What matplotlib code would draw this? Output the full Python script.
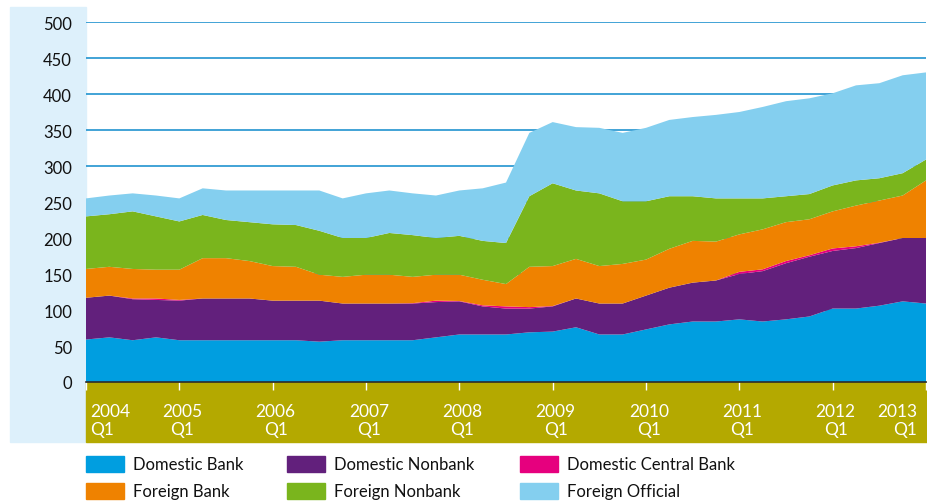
import numpy as np
from matplotlib import pyplot as plt
from matplotlib.patches import Rectangle
from matplotlib.transforms import ScaledTranslation

# Quarterly holdings, 2004 Q1 .. 2013 Q1
domestic_bank = [59, 62, 58, 62, 58, 58, 58, 58, 58, 58, 56, 58, 58, 58, 58, 62, 66, 66, 66,
                 69, 70, 76, 66, 66, 73, 80, 84, 84, 87, 84, 87, 91, 102, 102, 106, 112, 109]
domestic_nonbank = [58, 58, 57, 52, 55, 58, 58, 58, 55, 55, 57, 51, 51, 51, 51, 49, 46, 39, 36,
                    33, 35, 40, 43, 43, 47, 51, 54, 57, 63, 70, 78, 83, 80, 84, 87, 88, 91]
domestic_central_bank = [0, 0, 1, 2, 1, 0, 0, 0, 0, 0, 0, 0, 0, 0, 0.5, 2, 0.5, 1.5, 3,
                         2, 0.5, 0, 0, 0, 0, 0, 0, 0, 3, 2.5, 3, 2, 3.5, 2.5, 0.5, 0, 0]
foreign_bank = [40, 40, 41, 40, 42, 56, 56, 52, 48, 47, 36, 37, 40, 40, 36.5, 36, 36.5, 35.5, 31,
                56, 55.5, 55, 52, 55, 50, 54, 58, 54, 52, 55.5, 54, 50, 51.5, 56.5, 58.5, 59, 80]
foreign_nonbank = [73, 73, 80, 74, 67, 60, 53, 54, 58, 58, 61, 54, 51, 58, 58, 51, 54, 54, 57,
                   98, 115, 95, 101, 87, 81, 73, 62, 60, 50, 43, 36, 35, 36, 35, 31, 31, 29]
foreign_official = [25, 26, 25, 29, 32, 37, 41, 44, 47, 48, 56, 55, 62, 59, 58, 59, 63, 73, 84,
                    88, 85, 88, 91, 95, 102, 106, 110, 116, 120, 127, 132, 133, 128, 132, 132, 136, 121]

series_names = ["Domestic Bank", "Domestic Nonbank", "Domestic Central Bank",
                "Foreign Bank", "Foreign Nonbank", "Foreign Official"]
series_colors = ["#009ee0", "#62207c", "#e6007e", "#ef8200", "#7ab51d", "#84cfef"]
year_labels = ["2004", "2005", "2006", "2007", "2008", "2009", "2010", "2011", "2012", "2013"]

W, H = 927, 502
plt.rcParams["font.family"] = ["Lato", "DejaVu Sans"]

fig = plt.figure(figsize=(W / 100, H / 100), dpi=100)


def px(x, y):
    """Pixel position (from top left) to figure fraction"""
    return x / W, 1 - y / H


# Background panels: light blue behind y labels, olive band behind x labels
x0, y0 = px(10, 443)
fig.add_artist(Rectangle((x0, y0), 76 / W, 435 / H, color="#ddf0fb", zorder=0))
x0, y0 = px(86, 443)
fig.add_artist(Rectangle((x0, y0), 841 / W, 60 / H, color="#b4a900", zorder=0))

ax = fig.add_axes([86 / W, 1 - 383 / H, 840 / W, 360 / H])
ax.patch.set_alpha(0)

x = np.arange(len(domestic_bank))
ax.stackplot(x, domestic_bank, domestic_nonbank, domestic_central_bank,
             foreign_bank, foreign_nonbank, foreign_official,
             colors=series_colors, linewidth=0, zorder=2)

ax.set_xlim(0, len(x) - 1)
ax.set_ylim(0, 500)
ax.set_yticks(range(0, 501, 50))
ax.yaxis.grid(True, color="#2193cf", linewidth=1.2, zorder=1)
ax.set_axisbelow(True)

for side in ["top", "right", "left"]:
    ax.spines[side].set_visible(False)
ax.spines["bottom"].set_color("#2b2b2b")
ax.spines["bottom"].set_linewidth(1.2)
ax.spines["bottom"].set_zorder(5)

ax.tick_params(axis="y", length=0, pad=10, labelsize=12, labelcolor="#111111")

# Year ticks on every first quarter
ax.set_xticks(x[::4])
ax.set_xticklabels([f"{yr}\nQ1" for yr in year_labels], color="white", fontsize=12.5,
                   linespacing=1.2)
ax.tick_params(axis="x", length=6, width=1, color="white", pad=9)

# Nudge labels: slightly right of ticks, first left-aligned, last right-aligned
labels = ax.get_xticklabels()
for i, lab in enumerate(labels):
    shift = 3
    if i == 0:
        lab.set_horizontalalignment("left")
        shift = 4
    elif i == len(labels) - 1:
        lab.set_horizontalalignment("right")
        shift = -9
    lab.set_transform(lab.get_transform() + ScaledTranslation(shift / 100, 0, fig.dpi_scale_trans))

# Legend in three columns below the chart
col_x = [86, 287, 520]
row_y = [465, 492]
legend_order = [(0, 0), (0, 1), (0, 2), (1, 0), (1, 1), (1, 2)]
for i, (row, col) in enumerate(legend_order):
    lx, ly = px(col_x[col], row_y[row] + 8)
    fig.add_artist(Rectangle((lx, ly), 38 / W, 16 / H, color=series_colors[i]))
    tx, ty = px(col_x[col] + 47, row_y[row])
    fig.text(tx, ty, series_names[i], fontsize=12, va="center", ha="left", color="#111111")

plt.savefig("out.png", dpi=100)
